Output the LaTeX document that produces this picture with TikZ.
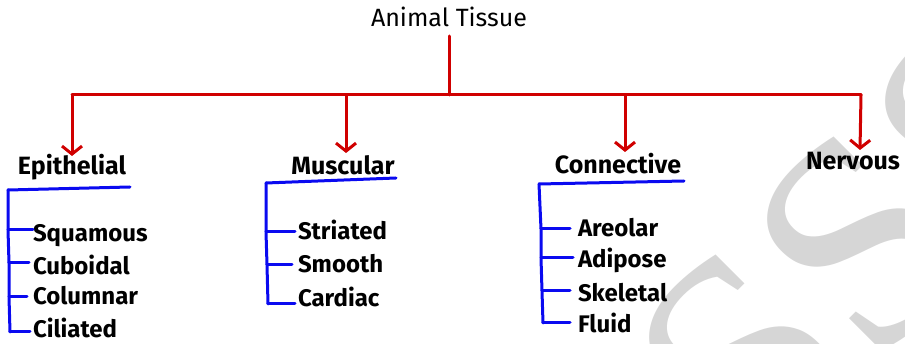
\documentclass[tikz,border=0pt]{standalone}
\usepackage{fontspec}
\setmainfont{Fira Sans}
\newfontfamily\wmfont{Liberation Serif}
\usetikzlibrary{arrows.meta}
\definecolor{tred}{RGB}{208,0,0}
\definecolor{tblue}{RGB}{10,10,240}
\definecolor{wmgray}{RGB}{214,214,214}
\begin{document}
\begin{tikzpicture}[x=1pt,y=-1pt,
  every node/.style={inner sep=0pt, outer sep=0pt},
  title/.style={font=\fontsize{25}{25}\selectfont, anchor=base},
  cat/.style={font=\fontsize{25}{25}\selectfont\bfseries, anchor=base},
  item/.style={font=\fontsize{24}{24}\selectfont\bfseries, anchor=base west},
  redline/.style={draw=tred, line width=3pt, line cap=round},
  arr/.style={redline, -{Straight Barb[length=8pt,width=20pt,line width=3pt]}},
  blueline/.style={draw=tblue, line width=3pt, line cap=round, line join=round}]
\useasboundingbox (0,0) rectangle (905,344);
\begin{scope}
  \clip (0,0) rectangle (905,344);
  \node[font=\wmfont\fontsize{300}{300}\selectfont, text=wmgray, rotate=45] (wm) at (862,242) {SSS};
\end{scope}

% root
\node[title] (root) at (449,27) {Animal Tissue};
\coordinate (bar) at (449,95);
\coordinate (bl) at (72,95);
\coordinate (br) at (861,95);

% categories
\node[cat] (epi) at (72,175) {Epithelial};
\node[cat] (mus) at (343,175) {Muscular};
\node[cat] (con) at (618,174) {Connective};
\node[cat] (ner) at (853,170) {Nervous};

\draw[redline] (root.south |- 0,36) -- (bar);
\draw[redline] (bl) -- (br);
\draw[arr] (bl) -- (72,156);
\draw[arr] (346,95) -- (346,153);
\draw[arr] (625,95) -- (625,152);
\draw[arr] (br) -- (860,150);

% Epithelial items
\node[item] (squ) at (33,242) {Squamous};
\node[item] (cub) at (33,275) {Cuboidal};
\node[item] (col) at (33,305) {Columnar};
\node[item] (cil) at (33,338) {Ciliated};
\coordinate (e0) at (8,190);
\coordinate (e1) at (8,230);
\coordinate (e2) at (9,263);
\coordinate (e3) at (9,297);
\coordinate (e4) at (10,332);
\draw[blueline] (e0) -- (130,187);
\draw[blueline] (e0) -- (e1) -- (e2) -- (e3) -- (e4);
\draw[blueline] (e1) -- (squ.west |- e1);
\draw[blueline] (e2) -- ([xshift=-4pt]cub.west |- e2);
\draw[blueline] (e3) -- ([xshift=-6pt]col.west |- e3);
\draw[blueline] (e4) -- ([xshift=-3pt]cil.west |- e4);

% Muscular items
\node[item] (str) at (298,240) {Striated};
\node[item] (smo) at (298,273) {Smooth};
\node[item] (car) at (298,307) {Cardiac};
\coordinate (m0) at (266,183);
\coordinate (m1) at (266,232);
\coordinate (m2) at (267,265);
\coordinate (m3) at (268,304);
\draw[blueline] (m0) -- (396,178);
\draw[blueline] (m0) -- (m1) -- (m2) -- (m3);
\draw[blueline] (m1) -- ([xshift=-3pt]str.west |- m1);
\draw[blueline] (m2) -- ([xshift=-6pt]smo.west |- m2);
\draw[blueline] (m3) -- ([xshift=-3pt]car.west |- m3);

% Connective items
\node[item] (are) at (578,237) {Areolar};
\node[item] (adi) at (578,268) {Adipose};
\node[item] (ske) at (578,302) {Skeletal};
\node[item] (flu) at (578,333) {Fluid};
\coordinate (c0) at (539,184);
\coordinate (c1) at (541,229);
\coordinate (c2) at (541,258);
\coordinate (c3) at (542,291);
\coordinate (c4) at (543,323);
\draw[blueline] (c0) -- (684,181);
\draw[blueline] (c0) -- (c1) -- (c2) -- (c3) -- (c4);
\draw[blueline] (c1) -- ([xshift=-8pt]are.west |- c1);
\draw[blueline] (c2) -- ([xshift=-5pt]adi.west |- c2);
\draw[blueline] (c3) -- ([xshift=-8pt]ske.west |- c3);
\draw[blueline] (c4) -- ([xshift=-8pt]flu.west |- c4);
\end{tikzpicture}
\end{document}
